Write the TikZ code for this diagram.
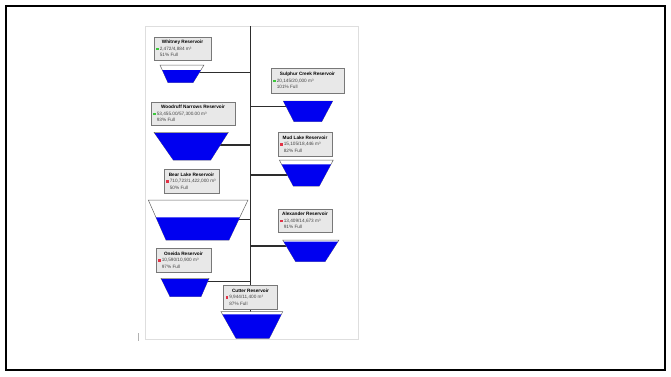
\documentclass[tikz,border=0pt]{standalone}
\usepackage{fontspec}
\setmainfont{Liberation Sans}
\usetikzlibrary{calc,backgrounds}
\definecolor{okc}{RGB}{60,200,60}
\definecolor{badc}{RGB}{225,50,70}
\definecolor{wat}{RGB}{0,0,240}
\definecolor{boxfill}{RGB}{232,232,232}
\definecolor{boxline}{RGB}{120,120,120}
\definecolor{connc}{RGB}{45,45,45}
\definecolor{panelc}{RGB}{222,222,222}
\definecolor{valc}{RGB}{70,70,70}
% #1 name, #2 status colour, #3 volume, #4 percent, #5 width
\newcommand\rtext[5]{\parbox{#5}{\centering\bfseries #1\par\raggedright\mdseries\color{valc}\textcolor{#2}{\rule{2.6pt}{2.6pt}}\hspace{1.2pt}#3\\\hspace*{3.8pt}#4}}
% #1 name, #2 tlx, #3 trx, #4 top y, #5 blx, #6 brx, #7 bottom y, #8 water y
\newcommand\resv[8]{%
  \coordinate (#1-tl) at (#2,#4);
  \coordinate (#1-tr) at (#3,#4);
  \coordinate (#1-bl) at (#5,#7);
  \coordinate (#1-br) at (#6,#7);
  \coordinate (#1-c) at ($(#1-tl)!0.5!(#1-br)$);
  \pgfmathsetmacro\wfrac{(#8-#4)/(#7-#4)}
  \draw[resline] (#1-tl) -- (#1-tr) -- (#1-br) -- (#1-bl) -- cycle;
  \fill[water] ($(#1-tl)!\wfrac!(#1-bl)$) -- ($(#1-tr)!\wfrac!(#1-br)$) -- (#1-br) -- (#1-bl) -- cycle;
}
\begin{document}
\begin{tikzpicture}[x=1pt,y=-1pt,
  rbox/.style={draw=boxline, fill=boxfill, line width=0.8pt, inner sep=1pt,
    font=\fontsize{4.7}{6.6}\selectfont, anchor=center},
  resline/.style={draw=gray!80!black, line width=0.5pt, fill=white},
  water/.style={fill=wat},
  conn/.style={draw=connc, line width=1.2pt},
  frame/.style={draw=black, line width=1.8pt}]
\useasboundingbox (0,0) rectangle (671,376);
\draw[frame] (6,6) rectangle (665,370);

% boxes
\node[rbox, minimum width=57pt, minimum height=23pt] (whitney) at (182.5,48.5)
  {\rtext{Whitney Reservoir}{okc}{2,472/4,884 m³}{51\% Full}{53pt}};
\node[rbox, minimum width=73pt, minimum height=25pt] (sulphur) at (307.5,80.5)
  {\rtext{Sulphur Creek Reservoir}{okc}{20,145/20,000 m³}{101\% Full}{69pt}};
\node[rbox, minimum width=84pt, minimum height=23pt] (woodruff) at (193,113.5)
  {\rtext{Woodruff Narrows Reservoir}{okc}{53,455.00/57,300.00 m³}{93\% Full}{80pt}};
\node[rbox, minimum width=54pt, minimum height=24pt] (mud) at (305,144)
  {\rtext{Mud Lake Reservoir}{badc}{15,105/18,446 m³}{82\% Full}{50pt}};
\node[rbox, minimum width=55pt, minimum height=24pt] (bear) at (191.5,181)
  {\rtext{Bear Lake Reservoir}{badc}{710,723/1,422,000 m³}{50\% Full}{51pt}};
\node[rbox, minimum width=54pt, minimum height=23pt] (alex) at (305,220.5)
  {\rtext{Alexander Reservoir}{badc}{13,409/14,673 m³}{91\% Full}{50pt}};
\node[rbox, minimum width=55pt, minimum height=24pt] (oneida) at (183.5,260)
  {\rtext{Oneida Reservoir}{badc}{10,590/10,900 m³}{97\% Full}{51pt}};
\node[rbox, minimum width=54pt, minimum height=24pt] (cutter) at (250.5,297)
  {\rtext{Cutter Reservoir}{badc}{9,944/11,400 m³}{87\% Full}{50pt}};

% reservoirs
\resv{whitneyR}{160}{204}{65}{168}{193}{82.7}{70}
\resv{sulphurR}{283.3}{332.7}{101}{294}{321.7}{121.7}{101}
\resv{woodruffR}{154}{228.3}{132.3}{173.3}{210.7}{160}{133}
\resv{mudR}{279.3}{333.3}{160}{293.3}{319.3}{186}{164.3}
\resv{bearR}{148.3}{248}{200}{166}{229}{240}{217.3}
\resv{alexR}{282.7}{339}{240}{295.7}{325}{261.7}{241.5}
\resv{oneidaR}{161}{209}{278.3}{170}{201}{296.7}{279}
\resv{cutterR}{221}{282.7}{311.7}{236}{269.3}{338.3}{314.3}

\begin{pgfonlayer}{background}
  \draw[draw=panelc, line width=0.8pt, fill=white] (145,26) rectangle (358,339.5);
  \draw[draw=gray!60, line width=0.6pt] (138,333) -- (138,341);
  \coordinate (ttop) at (cutter.north |- 0,26);
  \coordinate (jw) at (cutter.north |- 0,72.7);
  \coordinate (js) at (cutter.north |- 0,106.7);
  \coordinate (jwo) at (cutter.north |- 0,145);
  \coordinate (jm) at (cutter.north |- 0,175);
  \coordinate (jb) at (cutter.north |- 0,219.3);
  \coordinate (ja) at (cutter.north |- 0,246);
  \coordinate (jo) at (cutter.north |- 0,281.7);
  \draw[conn] (ttop) -- (cutter.north);
  \draw[conn] (jw) -- (whitneyR-c |- jw);
  \draw[conn] (js) -- (sulphurR-c |- js);
  \draw[conn] (jwo) -- (woodruffR-c |- jwo);
  \draw[conn] (jm) -- (mudR-c |- jm);
  \draw[conn] (jb) -- (bearR-c |- jb);
  \draw[conn] (ja) -- (alexR-c |- ja);
  \draw[conn] (jo) -- (oneidaR-c |- jo);
  \draw[conn] (cutter.south) -- (cutter.south |- cutterR-c);
\end{pgfonlayer}
\end{tikzpicture}
\end{document}
